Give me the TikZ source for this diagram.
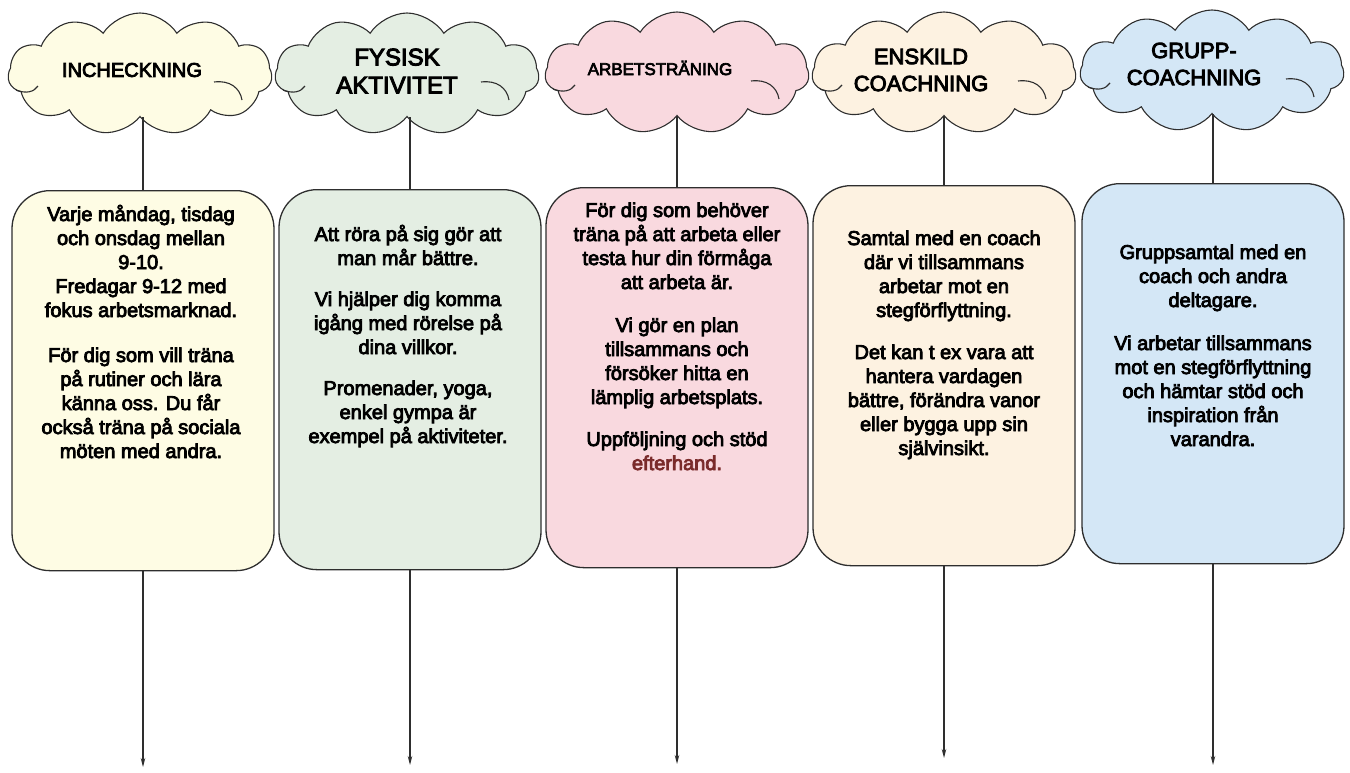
\documentclass[tikz,border=0pt]{standalone}
\usepackage{fontspec}
\setmainfont{Liberation Sans}[FakeBold=4]
\usetikzlibrary{shapes.symbols,arrows.meta}
\definecolor{linec}{HTML}{2E2E2E}
\definecolor{cyel}{HTML}{FEFCE4}
\definecolor{cgrn}{HTML}{E4EEE3}
\definecolor{cpnk}{HTML}{F9D9DF}
\definecolor{ccrm}{HTML}{FDF2E1}
\definecolor{cblu}{HTML}{D4E7F6}
\definecolor{efter}{HTML}{7A2B2B}
\begin{document}
\begin{tikzpicture}[x=1pt,y=-1pt,
  cloudshape/.style={cloud, cloud puffs=11, cloud puff arc=115, cloud ignores aspect,
    minimum width=264pt, minimum height=122pt, draw=linec, line width=1.1pt, inner sep=0pt},
  wrinkle/.style={draw=linec, line width=1.1pt},
  boxshape/.style={draw=linec, line width=1.3pt, rounded corners=38pt,
    minimum width=262pt, minimum height=380pt, inner sep=0pt, anchor=north},
  bodytext/.style={font=\fontsize{20}{24}\selectfont, align=center, anchor=north, inner sep=0pt},
  titletext/.style={align=center, inner sep=0pt},
  conn/.style={draw=linec, line width=1.2pt},
  arr/.style={draw=linec, line width=1.2pt, -{Stealth[length=9pt,width=4.5pt]}}
]
\useasboundingbox (0,0) rectangle (1350,772);

% clouds
\node[cloudshape, fill=cyel] (c1) at (140,74) {};
\node[cloudshape, fill=cgrn] (c2) at (407,74) {};
\node[cloudshape, fill=cpnk] (c3) at (677,73) {};
\node[cloudshape, fill=ccrm] (c4) at (944,73) {};
\node[cloudshape, fill=cblu] (c5) at (1212,71) {};

\foreach \c in {c1,c2,c3,c4,c5}{
  \draw[wrinkle] ([shift={(74,8)}]\c.center) .. controls ([shift={(90,6)}]\c.center) and ([shift={(100,14)}]\c.center) .. ([shift={(102,26)}]\c.center);
  \draw[wrinkle] ([shift={(-124,16)}]\c.center) .. controls ([shift={(-114,20)}]\c.center) and ([shift={(-106,18)}]\c.center) .. ([shift={(-102,12)}]\c.center);
}

% cloud titles
\node[titletext, font=\fontsize{20}{24}\selectfont] (t1) at (132,70) {INCHECKNING};
\node[titletext, font=\fontsize{24}{28}\selectfont] (t2) at (397,71) {FYSISK\\AKTIVITET};
\node[titletext, font=\fontsize{17}{20}\selectfont] (t3) at (660,68) {ARBETSTRÄNING};
\node[titletext, font=\fontsize{22}{27}\selectfont] (t4) at (921,70) {ENSKILD\\COACHNING};
\node[titletext, font=\fontsize{22}{27}\selectfont] (t5) at (1194,64) {GRUPP-\\COACHNING};

% boxes
\node[boxshape, fill=cyel] (b1) at (143,190) {};
\node[boxshape, fill=cgrn] (b2) at (410,189) {};
\node[boxshape, fill=cpnk] (b3) at (677,187) {};
\node[boxshape, fill=ccrm] (b4) at (944,185) {};
\node[boxshape, fill=cblu] (b5) at (1213,183) {};

% box texts
\node[bodytext] (x1) at (141,204) {\strut Varje måndag, tisdag\\och onsdag mellan\\9-10.\\Fredagar 9-12 med\\fokus arbetsmarknad.\\[21pt]För dig som vill träna\\på rutiner och lära\\känna oss. Du får\\också träna på sociala\\möten med andra.};
\node[bodytext] (x2) at (408,224) {\strut Att röra på sig gör att\\man mår bättre.\\[17pt]Vi hjälper dig komma\\igång med rörelse på\\dina villkor.\\[17pt]Promenader, yoga,\\enkel gympa är\\exempel på aktiviteter.};
\node[bodytext] (x3) at (677,200) {\strut För dig som behöver\\träna på att arbeta eller\\testa hur din förmåga\\att arbeta är.\\[19pt]Vi gör en plan\\tillsammans och\\försöker hitta en\\lämplig arbetsplats.\\[18pt]Uppföljning och stöd\\\textcolor{efter}{efterhand.}};
\node[bodytext] (x4) at (944,228) {\strut Samtal med en coach\\där vi tillsammans\\arbetar mot en\\stegförflyttning.\\[18pt]Det kan t ex vara att\\hantera vardagen\\bättre, förändra vanor\\eller bygga upp sin\\självinsikt.};
\node[bodytext] (x5) at (1213,242) {\strut Gruppsamtal med en\\coach och andra\\deltagare.\\[19pt]Vi arbetar tillsammans\\mot en stegförflyttning\\och hämtar stöd och\\inspiration från\\varandra.};

% connectors cloud -> box
\draw[conn] (b1.north |- c1.south) -- (b1.north);
\draw[conn] (b2.north |- c2.south) -- (b2.north);
\draw[conn] (b3.north |- c3.south) -- (b3.north);
\draw[conn] (b4.north |- c4.south) -- (b4.north);
\draw[conn] (b5.north |- c5.south) -- (b5.north);

% arrows down
\coordinate (e1) at (143,767);
\coordinate (e2) at (410,765);
\coordinate (e3) at (677,764);
\coordinate (e4) at (944,758);
\coordinate (e5) at (1213,765);
\draw[arr] (b1.south) -- (e1);
\draw[arr] (b2.south) -- (e2);
\draw[arr] (b3.south) -- (e3);
\draw[arr] (b4.south) -- (e4);
\draw[arr] (b5.south) -- (e5);
\end{tikzpicture}
\end{document}
